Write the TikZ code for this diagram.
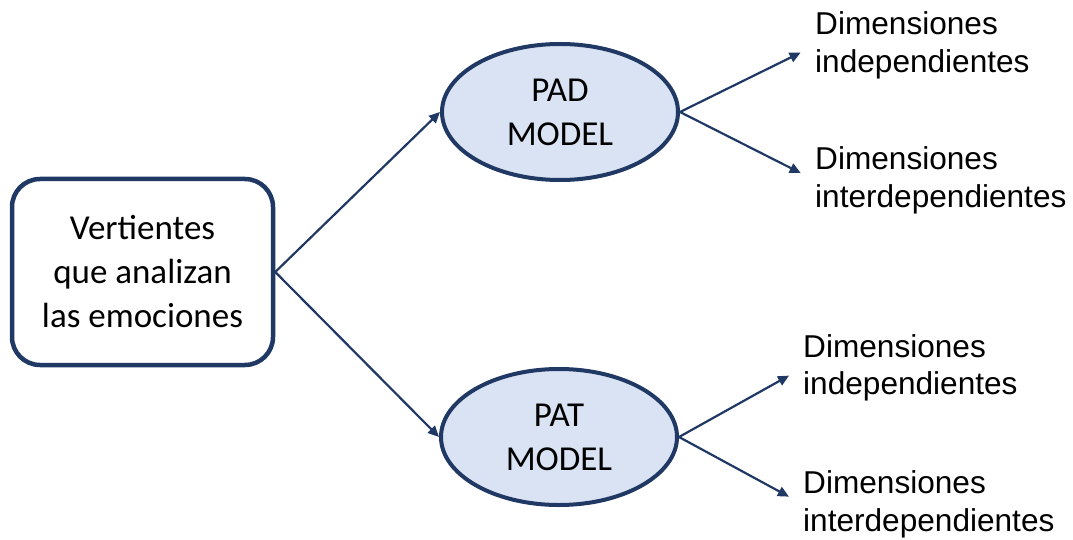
\documentclass[tikz,border=0pt]{standalone}
\usepackage{fontspec}
\setmainfont{Liberation Sans}
\newfontfamily\calib{Carlito}
\usetikzlibrary{arrows.meta,shapes.geometric}
\definecolor{navy}{HTML}{203864}
\definecolor{paleblue}{HTML}{DAE3F3}
\begin{document}
\begin{tikzpicture}[x=1pt,y=-1pt,
  rootbox/.style={draw=navy, line width=4.5pt, rounded corners=28pt, fill=white,
    minimum width=261pt, minimum height=186pt, align=center, inner sep=0pt,
    font=\calib\fontsize{35}{44}\selectfont},
  model/.style={ellipse, draw=navy, line width=4pt, fill=paleblue,
    minimum width=236pt, minimum height=136pt, align=center, inner sep=0pt,
    font=\calib\fontsize{35}{44}\selectfont},
  leaf/.style={anchor=west, align=left, inner sep=0pt,
    font=\fontsize{31.6}{37.5}\selectfont},
  link/.style={draw=navy, line width=2.2pt,
    -{Triangle[length=11pt,width=10pt]}},
  branch/.style={link, shorten >=16pt}]
  \useasboundingbox (0,0) rectangle (1073,540);

  % root and the two models
  \node[rootbox] (root) at (142.5,272) {Vertientes\\que analizan\\las emociones};
  \node[model] (pad) at (560,112) {PAD\\MODEL};
  \node[model] (pat) at (559,437) {PAT\\MODEL};

  % leaf labels
  \node[leaf] (padI) at (815,45.5) {Dimensiones\\independientes};
  \node[leaf] (padD) at (815,180.3) {Dimensiones\\interdependientes};
  \node[leaf] (patI) at (803,367.8) {Dimensiones\\independientes};
  \node[leaf] (patD) at (803,504.3) {Dimensiones\\interdependientes};

  % connectors
  \draw[link] (root.east) -- (pad.west);
  \draw[link] (root.east) -- (pat.west);
  \draw[branch] (pad.east) -- (padI.west);
  \draw[branch] (pad.east) -- (padD.west);
  \draw[branch] (pat.east) -- (patI.west);
  \draw[branch] (pat.east) -- (patD.west);
\end{tikzpicture}
\end{document}
